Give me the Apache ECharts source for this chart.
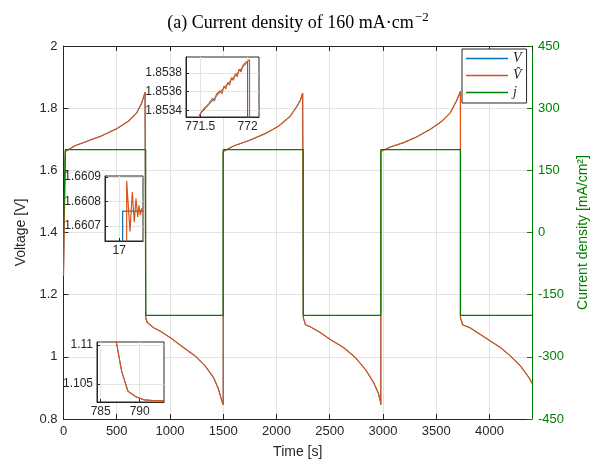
<!DOCTYPE html>
<html><head><meta charset="utf-8">
<script src="https://cdn.jsdelivr.net/npm/echarts@6/dist/echarts.min.js"></script>
<style>html,body{margin:0;padding:0;background:#fff}#c{width:605px;height:464px}</style>
</head><body><div id="c"></div>
<script>
// ---- Main plot data: [time s, voltage V]  (V and V-hat coincide at this scale)
const voltageMain = [
 [0,1.262],[16.9,1.268],[17.07,1.6608],[108,1.679],[233,1.695],[359,1.711],[500,1.734],[609,1.758],[688,1.785],[735,1.817],[766,1.851],[772,1.8539],
 [772.03,1.125],[787,1.1104],[787.7,1.1066],[788.5,1.1041],[789.5,1.1034],[790.6,1.1030],[793,1.1029],[850,1.093],[907,1.083],[1001,1.062],[1126,1.030],[1236,1.003],[1330,0.971],[1408,0.934],[1455,0.897],[1487,0.858],[1500,0.846],
 [1500.05,1.6608],[1602,1.679],[1737,1.695],[1894,1.718],[2019,1.742],[2129,1.774],[2192,1.806],[2225,1.826],[2246,1.848],[2252,1.8539],
 [2252.03,1.125],[2267,1.110],[2271,1.1032],[2317,1.097],[2411,1.078],[2505,1.056],[2630,1.030],[2740,0.998],[2834,0.960],[2912,0.918],[2959,0.881],[2975,0.858],[2980,0.846],
 [2980.05,1.6608],[3069,1.675],[3194,1.689],[3320,1.708],[3445,1.732],[3554,1.758],[3632,1.785],[3689,1.822],[3720,1.847],[3728,1.8539],
 [3728.03,1.125],[3743,1.110],[3747,1.1032],[3821,1.093],[3915,1.072],[4009,1.051],[4103,1.030],[4197,1.003],[4291,0.971],[4370,0.934],[4400,0.915]
];
// current density [time s, mA/cm2]
const currentMain = [[0,0],[17,0],[17,200],[772,200],[772,-200],[1500,-200],[1500,200],[2252,200],[2252,-200],[2980,-200],[2980,200],[3728,200],[3728,-200],[4400,-200]];

// ---- Inset 1 (end of first charge)
const inset1V = [[771.49,1.85335],[772.0,1.85392],[772.0,1.10]];
const inset1Vhat = [
 [771.49,1.85334],[771.51,1.85338],[771.53,1.85337],[771.55,1.85343],[771.57,1.85341],[771.59,1.85347],[771.61,1.85346],
 [771.63,1.85353],[771.65,1.85350],[771.67,1.85357],[771.69,1.85355],[771.71,1.85361],[771.73,1.85358],[771.75,1.85366],
 [771.77,1.85363],[771.79,1.85370],[771.81,1.85367],[771.83,1.85375],[771.85,1.85372],[771.87,1.85379],[771.89,1.85376],
 [771.91,1.85384],[771.93,1.85381],[771.95,1.85388],[771.97,1.85386],[771.99,1.85392],[772.01,1.85391],[772.02,1.85394],[772.025,1.10]
];
const inset1XTicks = [771.5, 772];
const inset1YTicks = [1.8534, 1.8536, 1.8538];

// ---- Inset 2 (start of first charge)
const inset2V = [[16.85,1.268],[17.036,1.268],[17.036,1.660761],[17.25,1.660761]];
const inset2Vhat = [[16.85,1.268],[17.068,1.268],[17.078,1.660884],[17.113,1.660678],[17.137,1.660839],[17.158,1.660716],[17.176,1.660812],
 [17.194,1.660737],[17.208,1.660784],[17.222,1.660744],[17.236,1.660772],[17.25,1.660756]];
const inset2XTicks = [17];
const inset2YTicks = [1.6607, 1.6608, 1.6609];

// ---- Inset 3 (start of first discharge)
const inset3V = [[784.53,1.125],[787,1.1104],[787.7,1.1066],[788.5,1.1041],[789.5,1.1034],[790.6,1.1030],[791.65,1.10292],[793.12,1.10292]];
const inset3Vhat = [[784.53,1.125],[787,1.1104],[787.7,1.1066],[788.5,1.1041],[789.5,1.1034],[790.6,1.1030],[791.65,1.10292],[793.12,1.10292]];
const inset3XTicks = [785, 790];
const inset3YTicks = [1.105, 1.11];

const legendNames = ['V', 'V\u0302', 'j'];

const BLUE = '#0072BD', ORANGE = '#D95319', GREEN = '#008000', AX = '#262626', GRIDC = '#e3e3e3';
const SANS = 'Liberation Sans, Arial, sans-serif';
const fmt = v => String(Math.round(v * 1e5) / 1e5);

function insetAxes(gi, xmin, xmax, ymin, ymax, xt, yt) {
  return {
    x: {type:'value', gridIndex:gi, min:xmin, max:xmax, z:11,
        axisLine:{show:true, onZero:false, lineStyle:{color:AX}},
        axisTick:{show:true, inside:true, length:3, customValues:xt, lineStyle:{color:AX}},
        axisLabel:{customValues:xt, formatter:fmt, fontFamily:SANS, fontSize:12, color:AX, margin:4},
        splitLine:{show:true, lineStyle:{color:GRIDC}}},
    y: {type:'value', gridIndex:gi, min:ymin, max:ymax, z:11,
        axisLine:{show:true, onZero:false, lineStyle:{color:AX}},
        axisTick:{show:true, inside:true, length:3, customValues:yt, lineStyle:{color:AX}},
        axisLabel:{customValues:yt, formatter:fmt, fontFamily:SANS, fontSize:12, color:AX, margin:4},
        splitLine:{show:true, lineStyle:{color:GRIDC}}}
  };
}
const in1 = insetAxes(1, 771.35, 772.12, 1.85333, 1.85397, inset1XTicks, inset1YTicks);
const in2 = insetAxes(2, 16.85, 17.25, 1.660639, 1.660904, inset2XTicks, inset2YTicks);
const in3 = insetAxes(3, 784.53, 793.12, 1.10273, 1.11037, inset3XTicks, inset3YTicks);

const insetGrid = (l,t,w,h) => ({left:l, top:t, width:w, height:h, show:true, z:10, backgroundColor:'#fff', borderColor:AX, borderWidth:1});
const lineS = (name, data, color, xi, yi, z, w) => ({type:'line', name, data, xAxisIndex:xi, yAxisIndex:yi, symbol:'none', showSymbol:false, z:z,
  lineStyle:{color, width:w}, itemStyle:{color}, clip:true, silent:true});

const chart = echarts.init(document.getElementById('c'), null, {renderer:'canvas'});
chart.setOption({
  animation:false,
  backgroundColor:'#fff',
  title:{text:'(a) Current density of 160 mA·cm{sup|−2}', left:293, top:6, textAlign:'center',
    textStyle:{fontFamily:'Liberation Serif, Times New Roman, serif', fontSize:18, fontWeight:'normal', color:'#000',
      rich:{sup:{fontFamily:'Liberation Serif, serif', fontSize:13, padding:[0,0,11,1]}}}},
  legend:{data:legendNames.map(n => ({name:n, icon:'rect'})), orient:'vertical', left:462, top:49, itemWidth:42, itemHeight:1.5, itemGap:2,
    padding:[2,5,3,4], borderColor:AX, borderWidth:1, backgroundColor:'#fff',
    textStyle:{fontFamily:'Liberation Serif, serif', fontStyle:'italic', fontSize:14, color:AX, lineHeight:15}},
  grid:[
    {left:63.5, right:73, top:46, bottom:42, show:false},
    insetGrid(186, 57, 73, 60),
    insetGrid(105, 176, 38, 65),
    insetGrid(97, 342, 67, 60)
  ],
  xAxis:[
    {type:'value', gridIndex:0, min:0, max:4400, interval:500, position:'bottom',
     name:'Time [s]', nameLocation:'middle', nameGap:26, nameTextStyle:{fontFamily:SANS, fontSize:14, color:AX},
     axisLine:{show:true, onZero:false, lineStyle:{color:AX}},
     axisTick:{show:true, inside:true, length:5, lineStyle:{color:AX}},
     axisLabel:{fontFamily:SANS, fontSize:13, color:AX, margin:6, showMaxLabel:false, formatter:v => String(v)},
     splitLine:{show:true, lineStyle:{color:GRIDC}}},
    {type:'value', gridIndex:0, min:0, max:4400, interval:500, position:'top',
     axisLine:{show:true, onZero:false, lineStyle:{color:AX}},
     axisTick:{show:true, inside:true, length:5, lineStyle:{color:AX}},
     axisLabel:{show:false}, splitLine:{show:false}},
    in1.x, in2.x, in3.x
  ],
  yAxis:[
    {type:'value', gridIndex:0, min:0.8, max:2, interval:0.2, position:'left',
     name:'Voltage [V]', nameLocation:'middle', nameGap:34, nameTextStyle:{fontFamily:SANS, fontSize:14, color:AX},
     axisLine:{show:true, onZero:false, lineStyle:{color:AX}},
     axisTick:{show:true, inside:true, length:5, lineStyle:{color:AX}},
     axisLabel:{fontFamily:SANS, fontSize:13, color:AX, margin:6},
     splitLine:{show:true, lineStyle:{color:GRIDC}}},
    {type:'value', gridIndex:0, min:-450, max:450, interval:150, position:'right',
     name:'Current density [mA/cm²]', nameLocation:'middle', nameGap:44, nameTextStyle:{fontFamily:SANS, fontSize:14, color:GREEN},
     axisLine:{show:true, onZero:false, lineStyle:{color:GREEN}},
     axisTick:{show:true, inside:true, length:5, lineStyle:{color:GREEN}},
     axisLabel:{fontFamily:SANS, fontSize:13, color:GREEN, margin:6},
     splitLine:{show:false}},
    in1.y, in2.y, in3.y
  ],
  series:[
    lineS(legendNames[0], voltageMain, BLUE, 0, 0, 2, 1),
    lineS(legendNames[1], voltageMain, ORANGE, 0, 0, 3, 1.2),
    lineS(legendNames[2], currentMain, GREEN, 0, 1, 4, 1.2),
    lineS('V_in1', inset1V, BLUE, 2, 2, 12, 1),
    lineS('Vh_in1', inset1Vhat, ORANGE, 2, 2, 13, 1.2),
    lineS('V_in2', inset2V, BLUE, 3, 3, 12, 1.2),
    lineS('Vh_in2', inset2Vhat, ORANGE, 3, 3, 13, 1.2),
    lineS('V_in3', inset3V, BLUE, 4, 4, 12, 1),
    lineS('Vh_in3', inset3Vhat, ORANGE, 4, 4, 13, 1.2)
  ]
});
</script></body></html>
